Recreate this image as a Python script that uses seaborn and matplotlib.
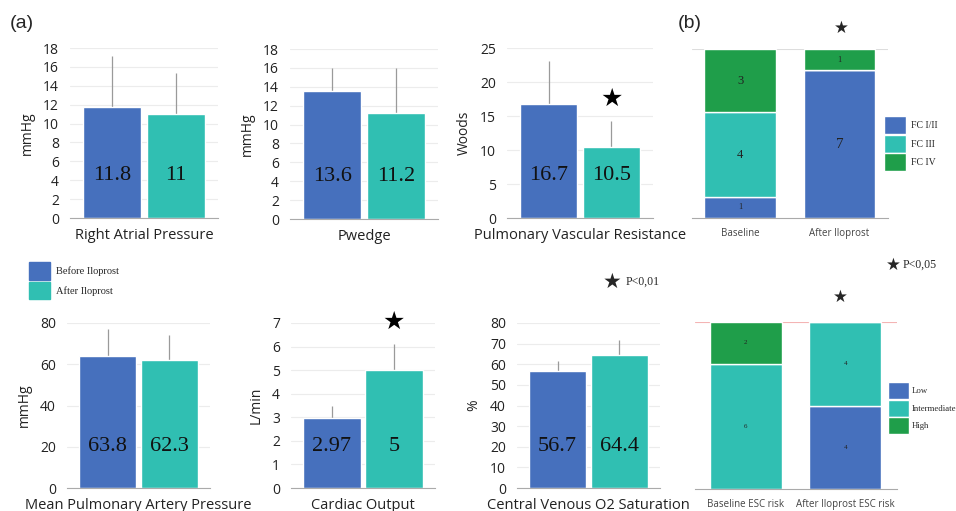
import numpy as np
import pandas as pd
import seaborn as sns
import matplotlib.pyplot as plt
from matplotlib.patches import Patch

sns.set_style("white")
plt.rcParams['font.family'] = ['Open Sans', 'DejaVu Sans']

# ---- data (a) ----
groups = ["Before Iloprost", "After Iloprost"]
titles = ["Right Atrial Pressure", "Pwedge", "Pulmonary Vascular Resistance",
          "Mean Pulmonary Artery Pressure", "Cardiac Output", "Central Venous O2 Saturation"]
units = ["mmHg", "mmHg", "Woods", "mmHg", "L/min", "%"]
before = [11.8, 13.6, 16.7, 63.8, 2.97, 56.7]
after = [11, 11.2, 10.5, 62.3, 5, 64.4]
before_sd = [5.3, 2.4, 6.4, 13.2, 0.5, 4.9]
after_sd = [4.3, 4.8, 3.8, 11.7, 1.1, 7.6]
ymax = [18, 18, 25, 80, 7, 80]
ystep = [2, 2, 5, 20, 1, 10]
signif = [False, False, True, False, True, False]

# ---- data (b) ----
fc_cats = ["Baseline", "After Iloprost"]
fc_classes = ["FC I/II", "FC III", "FC IV"]
fc_i_ii = [1, 7]
fc_iii = [4, 0]
fc_iv = [3, 1]
risk_cats = ["Baseline ESC risk", "After Iloprost ESC risk"]
risk_classes = ["Low", "Intermediate", "High"]
risk_low = [0, 4]
risk_mid = [6, 4]
risk_high = [2, 0]

blue = "#4670bd"
teal = "#30bfb2"
green = "#1f9e4a"
W, H = 956, 511


def box(l, t, r, b):
    return [l / W, 1 - b / H, (r - l) / W, (b - t) / H]


fig = plt.figure(figsize=(W / 100, H / 100), dpi=100)

boxes = [(70, 48, 218, 218), (290, 49, 438, 219), (507, 48, 653, 218),
         (67, 323, 210, 488), (291, 323, 435, 488), (517, 323, 660, 488)]

for i in range(6):
    ax = fig.add_axes(box(*boxes[i]))
    df = pd.DataFrame({"group": groups, "value": [before[i], after[i]]})
    sns.barplot(data=df, x="group", y="value", hue="group", palette=[blue, teal],
                width=0.92, saturation=1, errorbar=None, legend=False, ax=ax, zorder=2)
    ax.errorbar([0, 1], [before[i], after[i]], yerr=[[0, 0], [before_sd[i], after_sd[i]]],
                fmt="none", ecolor="#9a9a9a", elinewidth=0.9, capsize=0, zorder=1)
    ax.set_xlim(-0.66, 1.66)
    ax.set_ylim(0, ymax[i])
    ax.set_yticks(np.arange(0, ymax[i] + 1, ystep[i]))
    ax.tick_params(axis="y", length=0, labelsize=10, pad=8, colors="#222222")
    ax.set_xticks([])
    ax.yaxis.grid(True, color="#ececec", lw=0.8)
    ax.set_axisbelow(True)
    sns.despine(ax=ax, left=True)
    ax.spines["bottom"].set_color("#aaaaaa")
    ax.set_ylabel(units[i], fontsize=10, color="#222222", labelpad=6)
    ax.set_xlabel(titles[i], fontsize=10.5, color="#222222", labelpad=7)
    for x, v in enumerate([before[i], after[i]]):
        ax.text(x, 0.25, f"{v:g}", transform=ax.get_xaxis_transform(), ha="center",
                va="center", fontsize=16, family="Liberation Serif", color="#111111", zorder=3)
    if signif[i]:
        ax.text(1, after[i] + after_sd[i] + 0.06 * ymax[i], "★", ha="center", va="bottom",
                fontsize=18, family="DejaVu Sans", color="black", zorder=3)

# legend (a)
fig.legend(handles=[Patch(color=blue), Patch(color=teal)], labels=groups,
           loc="upper left", bbox_to_anchor=(24 / W, 1 - 257 / H), frameon=False,
           prop={"family": "Liberation Serif", "size": 7.5}, handlelength=2.0,
           handleheight=2.2, labelspacing=0.2, borderpad=0, handletextpad=0.6)
fig.text(603 / W, 1 - 282 / H, "★", fontsize=15, family="DejaVu Sans", ha="left", va="center")
fig.text(626 / W, 1 - 282 / H, "P<0,01", fontsize=8.5, family="Liberation Serif", ha="left", va="center")

fig.text(10 / W, 1 - 24 / H, "(a)", fontsize=14, family="Liberation Sans", va="center")
fig.text(678 / W, 1 - 24 / H, "(b)", fontsize=14, family="Liberation Sans", va="center")


def stacked(ax, cats, layers, colors, names, width, sizes):
    bottom = np.zeros(len(cats))
    for vals, c, n, fs in zip(layers, colors, names, sizes):
        vals = np.array(vals, dtype=float)
        ax.bar(range(len(cats)), vals, bottom=bottom, width=width, color=c, label=n, zorder=2)
        for x in range(len(cats)):
            if vals[x] > 0:
                ax.text(x, bottom[x] + vals[x] / 2, f"{vals[x]:g}", ha="center", va="center",
                        fontsize=fs[x], family="Liberation Serif", color="#222222", zorder=3)
        bottom += vals
    ax.set_ylim(0, 8)
    ax.set_yticks([])
    ax.set_xticks(range(len(cats)), cats, fontsize=7, color="#444444")
    ax.tick_params(axis="x", length=0, pad=7)
    sns.despine(ax=ax, left=True)
    ax.spines["bottom"].set_color("#aaaaaa")


ax = fig.add_axes(box(692, 49, 888, 218))
stacked(ax, fc_cats, [fc_i_ii, fc_iii, fc_iv], [blue, teal, green], fc_classes, 0.72,
        [[6, 11], [9, 9], [9, 6]])
ax.set_xlim(-0.485, 1.49)
ax.axhline(8, color="#dddddd", lw=0.8, zorder=1)
ax.legend(loc="upper left", bbox_to_anchor=(879 / W, 1 - 111 / H), bbox_transform=fig.transFigure,
          frameon=False, prop={"family": "Liberation Serif", "size": 7}, handlelength=2.3,
          handleheight=2.5, labelspacing=0.05, borderpad=0, handletextpad=0.5)
fig.text(841 / W, 1 - 28 / H, "★", fontsize=12, family="DejaVu Sans", ha="center", va="center")

ax = fig.add_axes(box(695, 322, 897, 489))
stacked(ax, risk_cats, [risk_low, risk_mid, risk_high], [blue, teal, green], risk_classes, 0.72,
        [[5, 5], [5, 5], [5, 5]])
ax.set_xlim(-0.51, 1.52)
ax.axhline(8, color="#f4b4b4", lw=0.8, zorder=1)
ax.legend(loc="upper left", bbox_to_anchor=(884 / W, 1 - 378 / H), bbox_transform=fig.transFigure,
          frameon=False, prop={"family": "Liberation Serif", "size": 6.3}, handlelength=2.3,
          handleheight=2.6, labelspacing=0.05, borderpad=0, handletextpad=0.35)
fig.text(840 / W, 1 - 297 / H, "★", fontsize=12, family="DejaVu Sans", ha="center", va="center")
fig.text(893 / W, 1 - 265 / H, "★", fontsize=12, family="DejaVu Sans", ha="center", va="center")
fig.text(903 / W, 1 - 265 / H, "P<0,05", fontsize=8.5, family="Liberation Serif", ha="left", va="center")

fig.savefig("out.png", dpi=100)
